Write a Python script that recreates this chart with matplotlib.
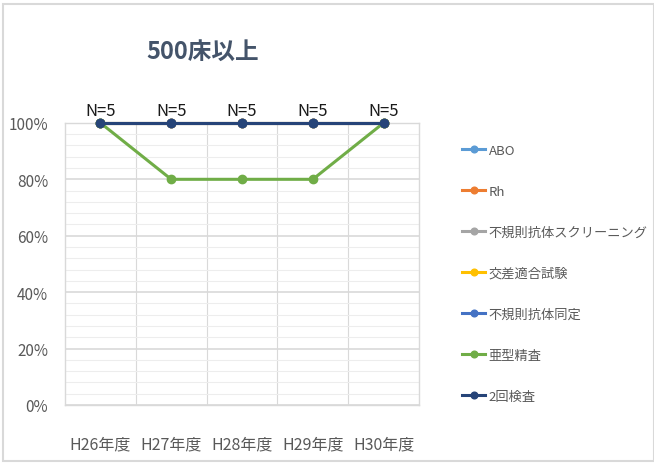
import matplotlib
matplotlib.use("Agg")
import matplotlib.pyplot as plt
from matplotlib.ticker import MultipleLocator, FuncFormatter
from matplotlib.patches import Rectangle

plt.rcParams['font.family'] = ['Noto Sans CJK JP', 'DejaVu Sans']

categories = ["H26年度", "H27年度", "H28年度", "H29年度", "H30年度"]
series_names = ["ABO", "Rh", "不規則抗体スクリーニング", "交差適合試験", "不規則抗体同定", "亜型精査", "2回検査"]
series_values = [
    [100, 100, 100, 100, 100],
    [100, 100, 100, 100, 100],
    [100, 100, 100, 100, 100],
    [100, 100, 100, 100, 100],
    [100, 100, 100, 100, 100],
    [100, 80, 80, 80, 100],
    [100, 100, 100, 100, 100],
]
colors = ["#5B9BD5", "#ED7D31", "#A5A5A5", "#FFC000", "#4472C4", "#70AD47", "#264478"]
n_labels = ["N=5", "N=5", "N=5", "N=5", "N=5"]
title = "500床以上"

fig = plt.figure(figsize=(6.54, 4.64), dpi=100)
fig.patches.append(Rectangle((0.005, 0.004), 0.995, 0.985, transform=fig.transFigure,
                             fill=False, edgecolor="#D9D9D9", linewidth=1.5))
ax = fig.add_axes([0.0994, 0.125, 0.5413, 0.608])

x = list(range(len(categories)))
for name, vals, c in zip(series_names, series_values, colors):
    ax.plot(x, [v / 100 for v in vals], color=c, linewidth=2.2, marker='o', markersize=6,
            label=name, clip_on=False, zorder=3)

for xi, lab in zip(x, n_labels):
    ax.annotate(lab, (xi, 1.0), xytext=(0, 3), textcoords='offset points',
                ha='center', va='bottom', fontsize=12, color='#1a1a1a')

ax.set_xlim(-0.5, len(categories) - 0.5)
ax.set_ylim(0, 1)
ax.yaxis.set_major_locator(MultipleLocator(0.2))
ax.yaxis.set_minor_locator(MultipleLocator(0.04))
ax.yaxis.set_major_formatter(FuncFormatter(lambda v, p: f"{v*100:.0f}%"))
ax.set_xticks(x)
ax.set_xticklabels(categories)
ax.set_xticks([i + 0.5 for i in range(len(categories) - 1)], minor=True)

ax.grid(True, which='major', axis='y', color='#D9D9D9', linewidth=1.2)
ax.grid(True, which='minor', axis='y', color='#EDEDED', linewidth=0.8)
ax.grid(True, which='minor', axis='x', color='#D9D9D9', linewidth=0.8)
ax.set_axisbelow(True)
for s in ax.spines.values():
    s.set_color('#D9D9D9')
    s.set_linewidth(1.0)

ax.tick_params(which='both', length=0)
ax.tick_params(axis='y', labelsize=11, labelcolor='#595959', pad=12)
ax.tick_params(axis='x', labelsize=11.5, labelcolor='#595959', pad=22)

fig.text(0.31, 0.888, title, ha='center', va='center', fontsize=17, fontweight='bold',
         color='#44546A')

leg = fig.legend(loc='upper left', bbox_to_anchor=(0.699, 0.699), frameon=False,
                 fontsize=9.5, labelspacing=2.12, handlelength=1.7, handletextpad=0.3,
                 markerscale=0.8, borderaxespad=0)
for t in leg.get_texts():
    t.set_color('#595959')

fig.savefig("out.png", dpi=100)
